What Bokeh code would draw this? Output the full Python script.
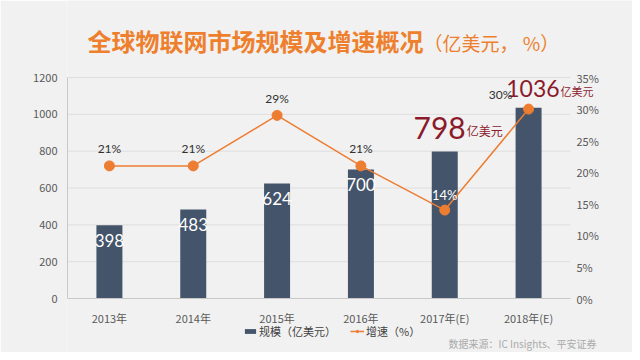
from bokeh.plotting import figure
from bokeh.models import (ColumnDataSource, Range1d, LinearAxis, Label, Legend, LegendItem,
                          FixedTicker)
from bokeh.core.properties import value
from bokeh.embed import file_html
from bokeh.resources import INLINE

years = ["2013年", "2014年", "2015年", "2016年", "2017年(E)", "2018年(E)"]
scale = [398, 483, 624, 700, 798, 1036]
growth = [21, 21, 29, 21, 14, 30]
left_ticks = [0, 200, 400, 600, 800, 1000, 1200]
right_ticks = [0, 5, 10, 15, 20, 25, 30, 35]

idx = list(range(len(years)))
BAR = "#44546a"
ORANGE = "#ed7d31"
BG = "#f1f1f1"
CJK = "Noto Sans CJK SC"
RED = "#8b1a2b"

# layout: the frame covers the canvas to the right and bottom edges so that notes
# outside the plotting area are not clipped; axes are pinned with fixed_location.
W, H = 632, 352
LEFT_PAD = 67
BELOW, DATA_H = 54, 221          # px below value 0; px for the full value scale
SLOT = 503 / 6                   # px per category
LEFT_MAX, RIGHT_MAX = 1200, 35
X0, X1 = -0.5, len(years) - 0.5

def rng(vmax):
    k = vmax / DATA_H
    return Range1d(-BELOW * k, (H - BELOW) * k)

p = figure(width=W, height=H, output_backend="svg", toolbar_location=None,
           x_range=Range1d(X0, X0 + (W - LEFT_PAD) / SLOT), y_range=rng(LEFT_MAX),
           min_border_left=LEFT_PAD, min_border_right=0, min_border_top=0, min_border_bottom=0,
           background_fill_color=BG, border_fill_color=BG, outline_line_color=None)
p.extra_y_ranges = {"pct": rng(RIGHT_MAX)}

# axes
p.xaxis.ticker = FixedTicker(ticks=idx)
p.xaxis.major_label_overrides = {i: y for i, y in zip(idx, years)}
p.xaxis.fixed_location = 0
p.xaxis.bounds = (X0, X1)
p.yaxis.ticker = FixedTicker(ticks=left_ticks)
p.yaxis.bounds = (0, LEFT_MAX)
ra = LinearAxis(y_range_name="pct", ticker=FixedTicker(ticks=right_ticks),
                bounds=(0, RIGHT_MAX), fixed_location=X1)
ra.major_label_overrides = {t: f"{t}%" for t in right_ticks}
p.add_layout(ra, "right")
for ax in [p.xaxis[0], p.yaxis[0], ra]:
    ax.major_tick_line_color = None
    ax.minor_tick_line_color = None
    ax.major_label_text_color = "#595959"
    ax.major_label_text_font_size = "11px"
    ax.major_label_text_font = CJK
p.xaxis.axis_line_color = "#c8c8c8"
p.yaxis.axis_line_color = "#c8c8c8"
ra.axis_line_color = None
p.xaxis.major_label_standoff = 5
p.yaxis.major_label_standoff = 4
ra.major_label_standoff = 0
p.grid.visible = False

# horizontal gridlines limited to the plotting area
p.segment(x0=X0, x1=X1, y0=left_ticks[1:], y1=left_ticks[1:], line_color="#dedede", line_width=1)

src = ColumnDataSource(dict(x=idx, scale=scale, growth=growth))

bars = p.vbar(x="x", top="scale", width=0.31, source=src, fill_color=BAR, line_color=None)
line = p.line(x="x", y="growth", source=src, y_range_name="pct", line_color=ORANGE, line_width=1.5)
pts = p.scatter(x="x", y="growth", source=src, y_range_name="pct", size=10, fill_color=ORANGE,
                line_color=ORANGE)

# bar value labels (white, inside bars)
s_in = ColumnDataSource(dict(x=idx[:4], y=scale[:4], t=[str(v) for v in scale[:4]]))
p.text(x="x", y="y", text="t", source=s_in, text_color="white", text_font=value("Lato"),
       text_font_size="17px", text_align="center", text_baseline="middle", y_offset=15)

# big labels
s798 = ColumnDataSource(dict(x=[idx[4]], y=[scale[4]], t=[str(scale[4])], u=["亿美元"]))
p.text(x="x", y="y", text="t", source=s798, text_color=RED, text_font=value("Lato"),
       text_font_size="30px", text_align="right", text_baseline="middle", x_offset=21, y_offset=-24)
p.text(x="x", y="y", text="u", source=s798, text_color=RED, text_font=value(CJK),
       text_font_size="12px", text_align="left", text_baseline="middle", x_offset=22, y_offset=-21)
s1036 = ColumnDataSource(dict(x=[idx[5]], y=[scale[5]], t=[str(scale[5])], u=["亿美元"]))
p.text(x="x", y="y", text="t", source=s1036, text_color=RED, text_font=value("Lato"),
       text_font_size="23px", text_align="right", text_baseline="middle", x_offset=31, y_offset=-19)
p.text(x="x", y="y", text="u", source=s1036, text_color=RED, text_font=value(CJK),
       text_font_size="11px", text_align="left", text_baseline="middle", x_offset=32, y_offset=-17)

# growth labels
g_dark = ColumnDataSource(dict(x=idx[:4], y=growth[:4], t=[f"{g}%" for g in growth[:4]]))
p.text(x="x", y="y", text="t", source=g_dark, y_range_name="pct", text_color="#303030",
       text_font=value("Lato"), text_font_size="12px", text_align="center",
       text_baseline="middle", y_offset=-17)
g14 = ColumnDataSource(dict(x=[idx[4]], y=[growth[4]], t=[f"{growth[4]}%"]))
p.text(x="x", y="y", text="t", source=g14, y_range_name="pct", text_color="white",
       text_font=value("Lato"), text_font_size="13px", text_align="center",
       text_baseline="middle", y_offset=-15)
g30 = ColumnDataSource(dict(x=[idx[5]], y=[growth[5]], t=[f"{growth[5]}%"]))
p.text(x="x", y="y", text="t", source=g30, y_range_name="pct", text_color="#303030",
       text_font=value("Lato"), text_font_size="12px", text_align="center",
       text_baseline="middle", x_offset=-28, y_offset=-15)

# title
p.add_layout(Label(x=20, y=312, x_units="screen", y_units="screen",
                   text="全球物联网市场规模及增速概况", text_color="#ee7f2d",
                   text_font=CJK, text_font_size="24px", text_font_style="bold",
                   text_baseline="middle"))
p.add_layout(Label(x=356, y=310, x_units="screen", y_units="screen",
                   text="（亿美元， %）", text_color="#ee7f2d",
                   text_font=CJK, text_font_size="19px", text_baseline="middle"))

legend = Legend(items=[LegendItem(label="规模（亿美元）", renderers=[bars]),
                       LegendItem(label="增速（%）", renderers=[line, pts])],
                location=(176, 13), orientation="horizontal",
                background_fill_alpha=0, border_line_color=None,
                label_text_font=CJK, label_text_font_size="11px", label_text_color="#404040",
                glyph_width=14, glyph_height=6, label_standoff=2, spacing=14,
                padding=0, margin=0, label_height=12)
p.add_layout(legend)

p.add_layout(Label(x=381, y=9, x_units="screen", y_units="screen",
                   text="数据来源：IC Insights、平安证券", text_color="#aaaaaa",
                   text_font=CJK, text_font_size="10px", text_baseline="middle"))

open("out.html", "w").write(file_html(p, INLINE))
